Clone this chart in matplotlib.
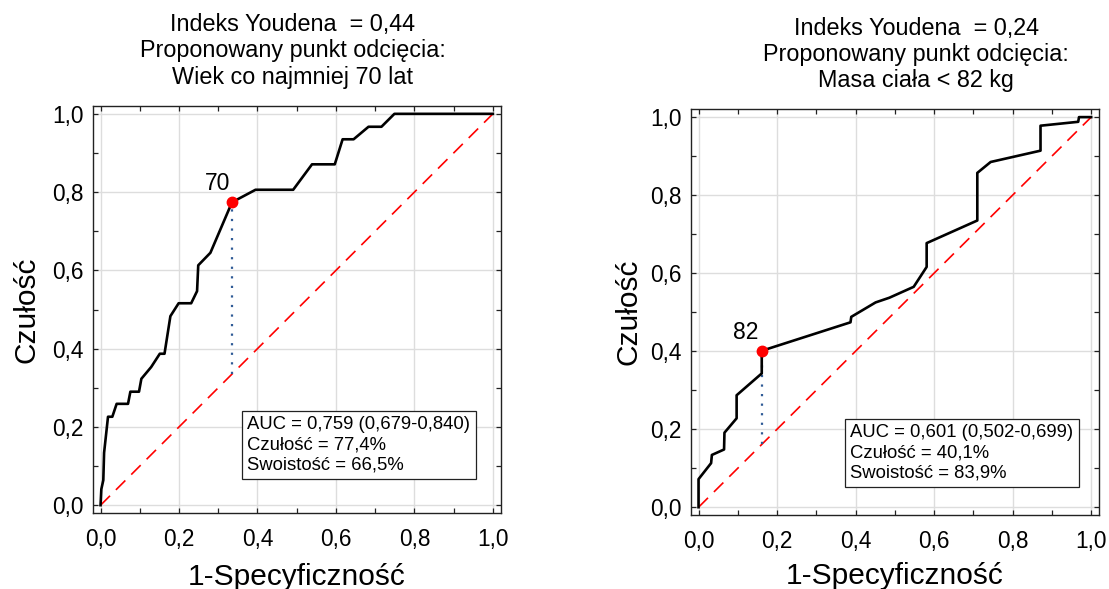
import numpy as np
import matplotlib.pyplot as plt
from matplotlib.ticker import MultipleLocator, FuncFormatter

plt.rcParams['font.family'] = ['Liberation Sans', 'DejaVu Sans']

# ROC: age
age_fpr = [0, 0.002, 0.007, 0.009, 0.019, 0.030, 0.041, 0.070, 0.076, 0.098, 0.104,
           0.129, 0.151, 0.163, 0.178, 0.199, 0.231, 0.246, 0.249, 0.280, 0.335,
           0.395, 0.491, 0.539, 0.597, 0.617, 0.645, 0.683, 0.716, 0.749, 1.0]
age_tpr = [0, 0.041, 0.064, 0.134, 0.226, 0.226, 0.259, 0.259, 0.290, 0.290, 0.323,
           0.353, 0.387, 0.387, 0.483, 0.516, 0.516, 0.547, 0.613, 0.645, 0.774,
           0.806, 0.806, 0.871, 0.871, 0.935, 0.935, 0.967, 0.967, 1.0, 1.0]
age_cut = (0.335, 0.774)
age_cut_label = '70'

# ROC: body mass
mass_fpr = [0, 0, 0.032, 0.034, 0.065, 0.066, 0.097, 0.097, 0.161, 0.161, 0.387,
            0.389, 0.451, 0.486, 0.548, 0.581, 0.581, 0.710, 0.710, 0.744, 0.871,
            0.871, 0.967, 0.969, 1.0]
mass_tpr = [0, 0.072, 0.113, 0.134, 0.148, 0.191, 0.228, 0.287, 0.343, 0.401, 0.474,
            0.488, 0.525, 0.537, 0.565, 0.616, 0.677, 0.735, 0.857, 0.885, 0.914,
            0.978, 0.988, 1.0, 1.0]
mass_cut = (0.161, 0.401)
mass_cut_label = '82'

titles = ['Indeks Youdena  = 0,44\nProponowany punkt odcięcia:\nWiek co najmniej 70 lat',
          'Indeks Youdena  = 0,24\nProponowany punkt odcięcia:\nMasa ciała < 82 kg']
stats_txt = ['AUC = 0,759 (0,679-0,840)\nCzułość = 77,4%\nSwoistość = 66,5%',
             'AUC = 0,601 (0,502-0,699)\nCzułość = 40,1%\nSwoistość = 83,9%']


def comma(v, pos):
    return f'{v:.1f}'.replace('.', ',')


def draw_roc(ax, fpr, tpr, cut, cut_label, cut_label_xy, stats, stats_xy,
             title_x, title, ylab_x, xlab_y):
    ax.plot([0, 1], [0, 1], color='#ff0000', lw=1.2, dashes=(8, 5), zorder=2)
    ax.plot([cut[0], cut[0]], [cut[0], cut[1]], color='#2f5b96', lw=1.6,
            linestyle=(0, (1, 3.3)), zorder=2)
    ax.plot(fpr, tpr, color='black', lw=1.9, zorder=3)
    ax.plot(cut[0], cut[1], 'o', color='#ff0000', ms=7.5, zorder=4)
    ax.text(cut_label_xy[0], cut_label_xy[1], cut_label, fontsize=16.5,
            ha='center', va='center')
    ax.text(stats_xy[0], stats_xy[1], stats, fontsize=13.3, ha='left', va='bottom',
            linespacing=1.25,
            bbox=dict(boxstyle='square,pad=0.3', fc='white', ec='#222222', lw=0.9))

    ax.set_xlim(-0.02, 1.02)
    ax.set_ylim(-0.02, 1.02)
    ax.xaxis.set_major_locator(MultipleLocator(0.2))
    ax.yaxis.set_major_locator(MultipleLocator(0.2))
    ax.xaxis.set_minor_locator(MultipleLocator(0.1))
    ax.yaxis.set_minor_locator(MultipleLocator(0.1))
    ax.xaxis.set_major_formatter(FuncFormatter(comma))
    ax.yaxis.set_major_formatter(FuncFormatter(comma))
    ax.tick_params(which='both', direction='in', top=True, right=True,
                   length=3.5, width=0.9, color='#222222')
    ax.tick_params(axis='x', which='major', labelsize=16.3, pad=10.5)
    ax.tick_params(axis='y', which='major', labelsize=16.3, pad=6.5)
    ax.grid(True, which='major', color='#dddddd', lw=1.0, zorder=0)
    ax.set_axisbelow(True)
    for s in ax.spines.values():
        s.set_linewidth(1.0)
        s.set_color('#222222')

    ax.set_xlabel('1-Specyficzność', fontsize=21.5, va='top')
    ax.set_ylabel('Czułość', fontsize=21.5)
    ax.xaxis.set_label_coords(0.5, xlab_y)
    ax.yaxis.set_label_coords(ylab_x, 0.5)
    ax.text(title_x, 1.043, title, transform=ax.transAxes, fontsize=16.8,
            ha='center', va='bottom', linespacing=1.17)


fig = plt.figure(figsize=(11.09, 5.89), dpi=100)
ax1 = fig.add_axes([0.0836, 0.1290, 0.3679, 0.6910])
ax2 = fig.add_axes([0.6228, 0.1256, 0.3682, 0.6888])

draw_roc(ax1, age_fpr, age_tpr, age_cut, age_cut_label, (0.299, 0.823),
         stats_txt[0], (0.374, 0.080), 0.49, titles[0], -0.127, -0.122)
draw_roc(ax2, mass_fpr, mass_tpr, mass_cut, mass_cut_label, (0.121, 0.449),
         stats_txt[1], (0.386, 0.065), 0.552, titles[1], -0.118, -0.117)

fig.savefig('out.png', dpi=100)
